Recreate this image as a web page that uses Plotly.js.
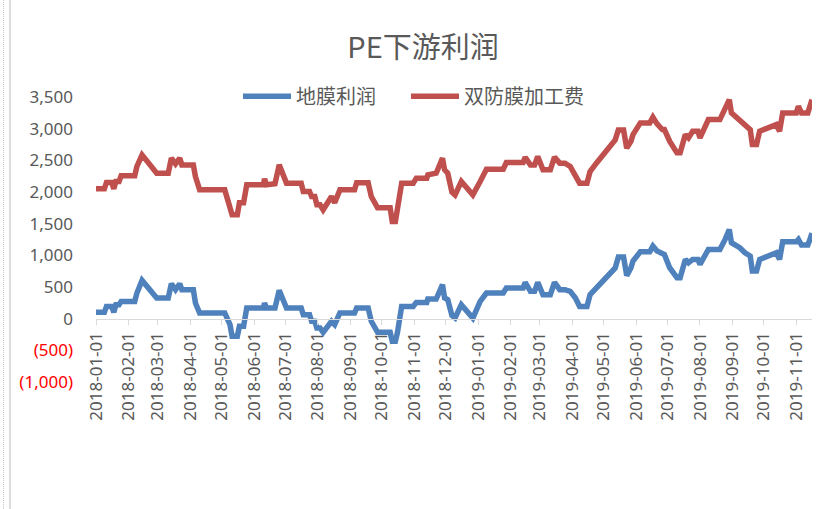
<!DOCTYPE html>
<html>
<head>
<meta charset="utf-8">
<script src="https://cdn.plot.ly/plotly-3.0.1.min.js"></script>
<style>
  html, body { margin: 0; padding: 0; background: #ffffff; }
  #wrap { position: relative; width: 827px; height: 509px; }
  #chart { position: absolute; left: 0; top: 0; width: 827px; height: 509px; }
  #edge { position: absolute; left: 9px; top: 0; width: 2px; height: 509px; background: #dcdcdc; }
  #dots { position: absolute; left: 3px; top: 0; width: 0; height: 509px; border-left: 1px dotted #c8c8c8; }
</style>
</head>
<body>
<div id="wrap">
  <div id="chart"></div>
  <div id="dots"></div>
  <div id="edge"></div>
</div>
<script>
const titleText = 'PE下游利润';
const seriesNames = ['地膜利润', '双防膜加工费'];

const dates = [
  '2018-01-01','2018-01-09','2018-01-11','2018-01-16','2018-01-18','2018-01-20','2018-01-23','2018-01-25',
  '2018-02-07','2018-02-09','2018-02-14','2018-02-28','2018-03-11','2018-03-14','2018-03-18','2018-03-22',
  '2018-03-24','2018-04-04','2018-04-06','2018-04-10','2018-05-04','2018-05-09','2018-05-11','2018-05-16',
  '2018-05-18','2018-05-22','2018-05-25','2018-06-10','2018-06-11','2018-06-13','2018-06-21','2018-06-25',
  '2018-07-02','2018-07-16','2018-07-18','2018-07-24','2018-07-26','2018-07-29','2018-07-31','2018-08-03',
  '2018-08-06','2018-08-14','2018-08-17','2018-08-22','2018-09-05','2018-09-07','2018-09-18','2018-09-21',
  '2018-09-27','2018-10-09','2018-10-11','2018-10-14','2018-10-16','2018-10-20','2018-10-31','2018-11-03',
  '2018-11-13','2018-11-14','2018-11-22','2018-11-28','2018-11-30','2018-12-03','2018-12-07','2018-12-10',
  '2018-12-16','2018-12-21','2018-12-27','2019-01-03','2019-01-06','2019-01-09','2019-01-25','2019-01-28',
  '2019-02-13','2019-02-15','2019-02-20','2019-02-24','2019-02-27','2019-03-04','2019-03-11','2019-03-15',
  '2019-03-20','2019-03-25','2019-03-30','2019-04-04','2019-04-08','2019-04-15','2019-04-18','2019-04-24',
  '2019-05-01','2019-05-07','2019-05-12','2019-05-15','2019-05-20','2019-05-23','2019-05-27','2019-05-29',
  '2019-06-05','2019-06-14','2019-06-17','2019-06-21','2019-06-26','2019-06-28','2019-07-03','2019-07-10',
  '2019-07-13','2019-07-18','2019-07-21','2019-07-25','2019-07-30','2019-08-01','2019-08-09','2019-08-20',
  '2019-08-25','2019-08-29','2019-08-31','2019-09-08','2019-09-13','2019-09-18','2019-09-20','2019-09-24',
  '2019-09-27','2019-10-07','2019-10-13','2019-10-16','2019-10-19','2019-11-01','2019-11-03','2019-11-06',
  '2019-11-12','2019-11-14','2019-11-16'
];

const landFilmProfit = [
  100,100,194,194,100,221,221,273,
  273,400,604,326,326,552,457,552,
  457,457,247,90,90,-95,-279,-279,
  -121,-121,169,169,247,169,169,446,
  169,169,63,63,-42,-42,-147,-147,
  -216,-42,-95,90,90,169,169,-42,
  -216,-216,-358,-358,-216,194,194,257,
  257,310,310,536,326,300,50,10,
  221,115,10,273,352,405,405,484,
  484,573,431,431,573,378,378,573,
  457,457,431,326,194,194,378,484,
  589,720,800,973,973,680,800,910,
  1057,1057,1146,1068,1014,1014,804,647,
  647,935,883,935,935,857,1093,1093,
  1251,1408,1199,1120,1041,989,752,752,
  935,1014,1041,935,1214,1214,1251,1162,
  1162,1251,1350
];

const doubleProofFee = [
  2050,2050,2150,2150,2050,2165,2165,2255,
  2255,2400,2586,2297,2297,2534,2445,2534,
  2428,2428,2245,2034,2034,1750,1640,1640,
  1830,1830,2113,2113,2208,2113,2130,2428,
  2140,2140,2008,2008,1929,1929,1798,1798,
  1719,1929,1830,2034,2034,2145,2145,1929,
  1750,1750,1534,1534,1750,2140,2140,2219,
  2219,2271,2297,2534,2350,2297,2000,1955,
  2165,2060,1955,2165,2245,2360,2360,2466,
  2466,2550,2428,2428,2560,2350,2350,2550,
  2455,2455,2403,2271,2140,2140,2323,2455,
  2586,2717,2823,2980,2980,2692,2800,2906,
  3091,3091,3181,3075,2985,2985,2802,2618,
  2618,2906,2854,2960,2960,2854,3143,3143,
  3300,3458,3249,3143,3064,2985,2750,2750,
  2960,3040,3064,2960,3249,3249,3354,3249,
  3249,3354,3458
];

const xTicks = [
  '2018-01-01','2018-02-01','2018-03-01','2018-04-01','2018-05-01','2018-06-01',
  '2018-07-01','2018-08-01','2018-09-01','2018-10-01','2018-11-01','2018-12-01',
  '2019-01-01','2019-02-01','2019-03-01','2019-04-01','2019-05-01','2019-06-01',
  '2019-07-01','2019-08-01','2019-09-01','2019-10-01','2019-11-01'
];
const yTickVals = [-1000,-500,0,500,1000,1500,2000,2500,3000,3500];
const yTickText = [
  '<span style="fill:#ff0000">(1,000)</span>',
  '<span style="fill:#ff0000">(500)</span>',
  '0','500','1,000','1,500','2,000','2,500','3,000','3,500'
];

const fontFam = '"Noto Sans", "Noto Sans CJK SC", sans-serif';
const cjkFam = '"Noto Sans CJK SC", "Noto Sans", sans-serif';

const traces = [
  {
    type: 'scatter', mode: 'lines', name: seriesNames[0],
    x: dates, y: landFilmProfit, legend: 'legend',
    line: { color: '#4F81BD', width: 5.5 }
  },
  {
    type: 'scatter', mode: 'lines', name: seriesNames[1],
    x: dates, y: doubleProofFee, legend: 'legend2',
    line: { color: '#C0504D', width: 5.5 }
  }
];

const legendBase = {
  orientation: 'h',
  xref: 'container', xanchor: 'left',
  yref: 'container', y: 0.811, yanchor: 'middle',
  font: { family: cjkFam, size: 20, color: '#595959' },
  bgcolor: 'rgba(0,0,0,0)',
  itemwidth: 48
};

const layout = {
  width: 827, height: 509,
  paper_bgcolor: 'rgba(0,0,0,0)', plot_bgcolor: 'rgba(0,0,0,0)',
  margin: { l: 96, r: 15, t: 97, b: 127, pad: 0, autoexpand: false },
  showlegend: true,
  title: {
    text: titleText,
    font: { family: cjkFam, size: 29, color: '#595959' },
    xref: 'container', x: 0.5115, xanchor: 'center',
    yref: 'container', y: 0.906, yanchor: 'middle',
    automargin: false
  },
  legend: Object.assign({}, legendBase, { x: 238 / 827 }),
  legend2: Object.assign({}, legendBase, { x: 406 / 827 }),
  xaxis: {
    type: 'date',
    range: ['2018-01-01', '2019-11-16'],
    anchor: 'free', position: 1000 / 4500,
    tickmode: 'array', tickvals: xTicks, tickformat: '%Y-%m-%d',
    tickangle: -90,
    ticks: 'outside', ticklen: 5, tickcolor: '#d9d9d9', tickwidth: 1,
    showline: true, linecolor: '#d9d9d9', linewidth: 1.5,
    showgrid: false, zeroline: false,
    tickfont: { family: fontFam, size: 17, color: '#595959' },
    automargin: false, fixedrange: true
  },
  yaxis: {
    range: [-1000, 3500],
    tickmode: 'array', tickvals: yTickVals, ticktext: yTickText,
    showline: false, showgrid: false, zeroline: false,
    ticks: '', ticklabelstandoff: 22,
    tickfont: { family: fontFam, size: 17, color: '#595959' },
    automargin: false, fixedrange: true
  }
};

Plotly.newPlot('chart', traces, layout, { staticPlot: true, displayModeBar: false });
</script>
</body>
</html>
